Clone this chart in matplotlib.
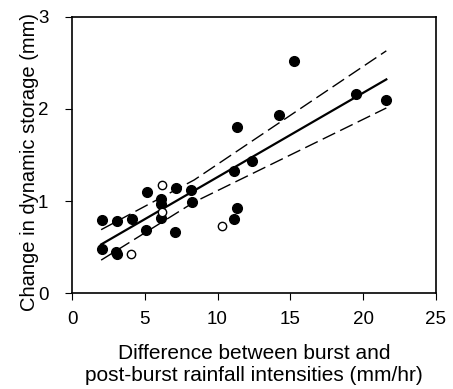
import numpy as np
import matplotlib
matplotlib.use('Agg')
from matplotlib import pyplot as plt

plt.rcParams['font.family'] = ['Liberation Sans', 'DejaVu Sans']

# filled circles
x_filled = [2.05, 3.08, 4.11, 2.05, 3.0, 3.08, 5.14, 5.10, 6.1, 6.1, 6.1, 7.16, 7.11, 8.19, 8.24,
            11.33, 11.15, 11.33, 11.15, 12.37, 14.24, 15.25, 19.52, 21.58]
y_filled = [0.80, 0.78, 0.81, 0.48, 0.45, 0.43, 1.10, 0.69, 1.02, 0.97, 0.82, 1.14, 0.67, 1.12, 0.99,
            1.80, 1.33, 0.92, 0.81, 1.43, 1.93, 2.52, 2.16, 2.10]
# open circles
x_open = [6.17, 6.17, 4.06, 10.28]
y_open = [1.17, 0.88, 0.43, 0.73]

# regression line and confidence band
x_fit = [2.0, 21.6]
y_fit = [0.53, 2.32]
x_band = [2.0, 8.4, 21.6]
y_upper = [0.69, 1.23, 2.63]
y_lower = [0.36, 0.99, 2.01]

fig = plt.figure(figsize=(4.53, 3.89), dpi=100)
ax = fig.add_axes([0.159, 0.246, 0.803, 0.711])

ax.plot(x_fit, y_fit, color='black', linewidth=1.6)
ax.plot(x_band, y_upper, color='black', linewidth=1.0, linestyle=(0, (10, 4)))
ax.plot(x_band, y_lower, color='black', linewidth=1.0, linestyle=(0, (10, 4)))
ax.plot(x_filled, y_filled, 'o', color='black', markersize=7, linestyle='none')
ax.plot(x_open, y_open, 'o', markerfacecolor='white', markeredgecolor='black',
        markersize=6, markeredgewidth=1.0, linestyle='none')

ax.set_xlim(0, 25)
ax.set_ylim(0, 3)
ax.set_xticks([0, 5, 10, 15, 20, 25])
ax.set_yticks([0, 1, 2, 3])
ax.tick_params(direction='out', length=5, labelsize=13.5, top=False, right=False)
ax.tick_params(axis='x', pad=8)
ax.tick_params(axis='y', pad=12)
for s in ax.spines.values():
    s.set_linewidth(1.2)

ax.set_xlabel('Difference between burst and\npost-burst rainfall intensities (mm/hr)',
              fontsize=15, labelpad=11, linespacing=1.25)
ax.set_ylabel('Change in dynamic storage (mm)', fontsize=14.5)
ax.yaxis.set_label_coords(-0.09, 0.475)

fig.savefig('out.png', dpi=100)
